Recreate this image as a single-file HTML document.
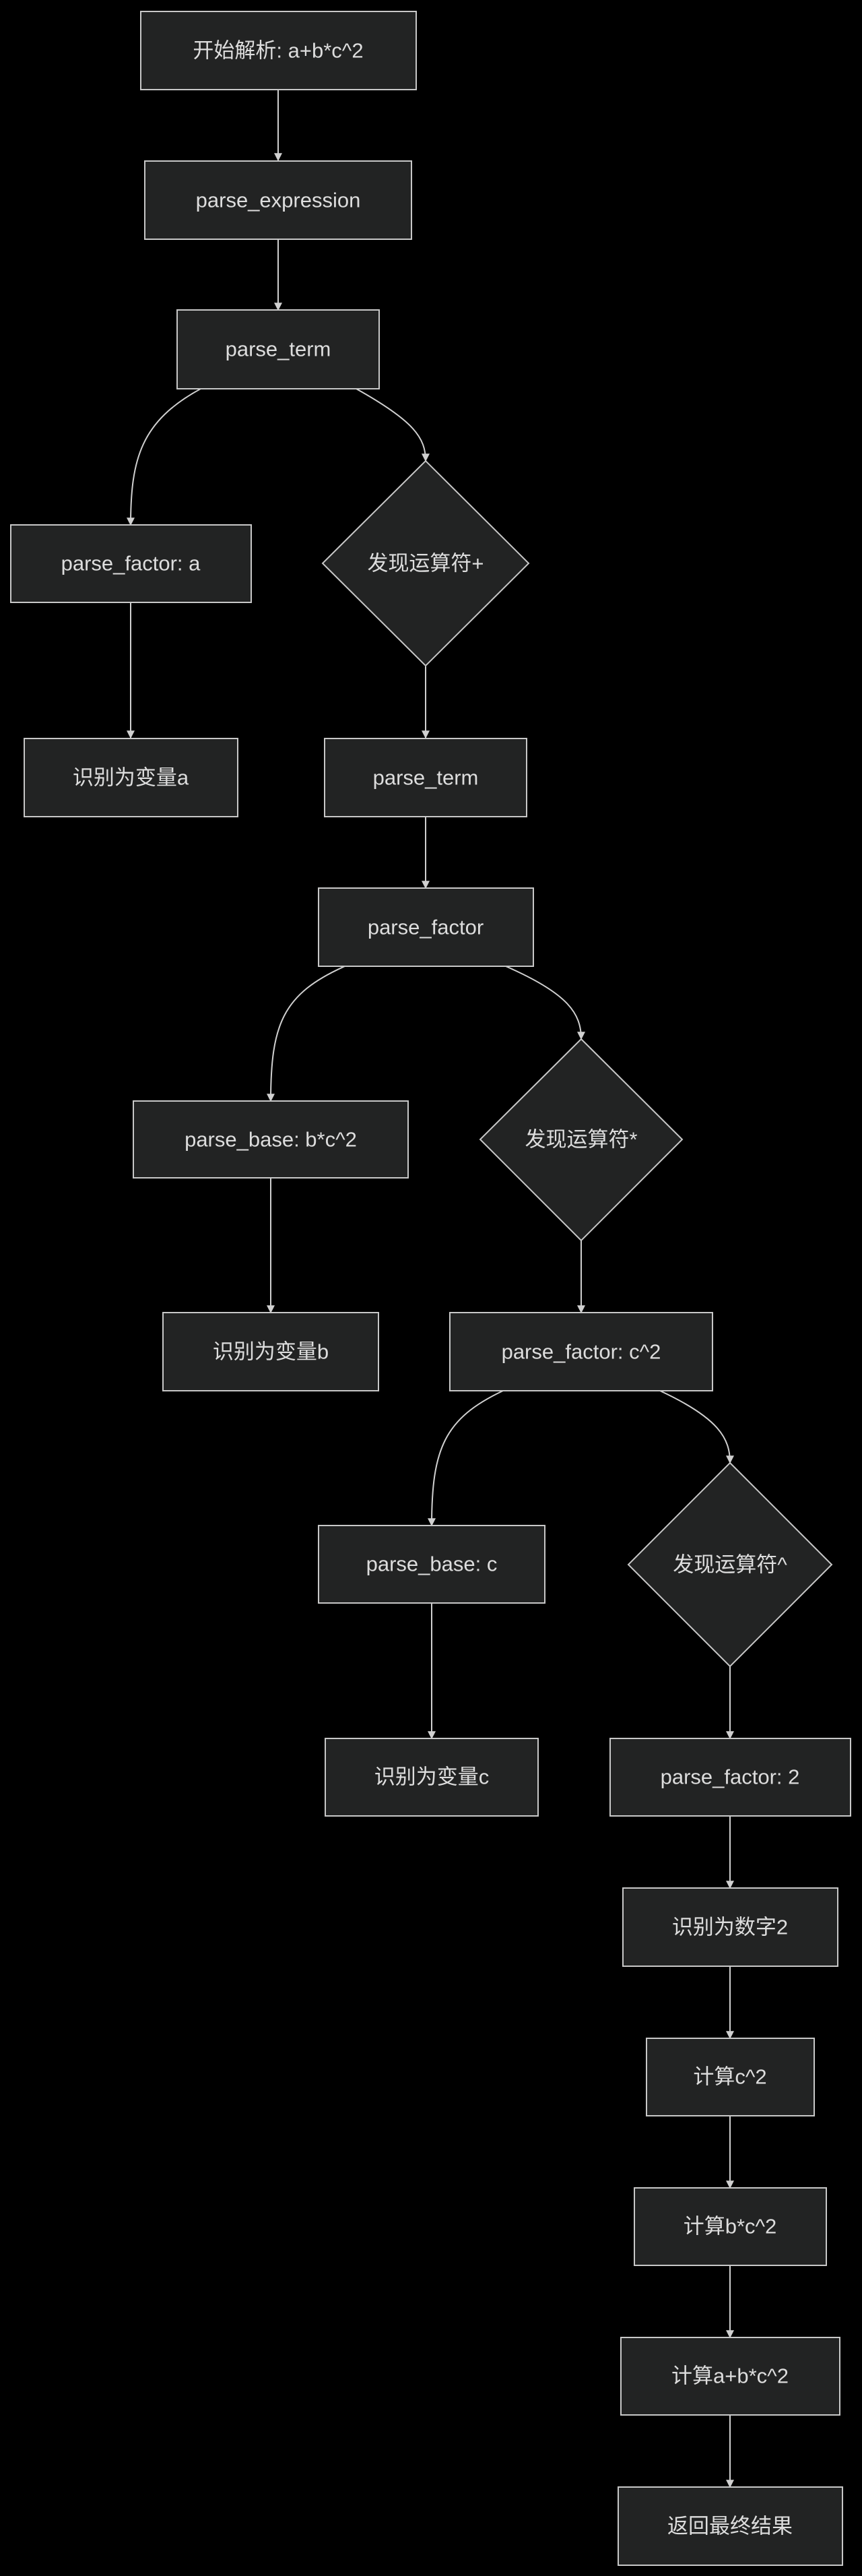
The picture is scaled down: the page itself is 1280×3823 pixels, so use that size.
<!DOCTYPE html>
<html><head><meta charset="utf-8"><style>
html,body{margin:0;padding:0;background:#000;}
svg{display:block}
text{font-family:"Liberation Sans","Noto Sans CJK SC",sans-serif;font-size:31px;fill:#dddddd;text-anchor:middle;dominant-baseline:central}
.n{fill:#222323;stroke:#c8c8c8;stroke-width:2}
.e{fill:none;stroke:#d0d0d0;stroke-width:2;marker-end:url(#a)}
</style></head><body>
<svg width="1280" height="3823" viewBox="0 0 1280 3823" xmlns="http://www.w3.org/2000/svg">
<defs><marker id="a" viewBox="0 0 10 10" refX="9" refY="5" markerWidth="12" markerHeight="12" markerUnits="userSpaceOnUse" orient="auto"><path d="M0,0 L10,5 L0,10 z" fill="#d0d0d0"/></marker></defs>

<path class="e" d="M413,133 L413,238"/>
<path class="e" d="M413,355 L413,460"/>
<path class="e" d="M298,577 C210,625 194,680 194,779"/>
<path class="e" d="M529,577 C615,625 632,650 632,684"/>
<path class="e" d="M194,894 L194,1095"/>
<path class="e" d="M632,989 L632,1095"/>
<path class="e" d="M632,1212 L632,1318"/>
<path class="e" d="M512,1434 C420,1475 402,1520 402,1634"/>
<path class="e" d="M751,1434 C845,1475 863,1505 863,1542"/>
<path class="e" d="M402,1748 L402,1948"/>
<path class="e" d="M863,1841 L863,1948"/>
<path class="e" d="M747,2064 C660,2105 641,2150 641,2264"/>
<path class="e" d="M980,2064 C1068,2105 1084,2135 1084,2171"/>
<path class="e" d="M641,2379 L641,2580"/>
<path class="e" d="M1084,2473 L1084,2580"/>
<path class="e" d="M1084,2695 L1084,2802"/>
<path class="e" d="M1084,2918 L1084,3025"/>
<path class="e" d="M1084,3140 L1084,3247"/>
<path class="e" d="M1084,3362 L1084,3469"/>
<path class="e" d="M1084,3584 L1084,3691"/>

<rect class="n" x="209" y="17" width="409" height="116"/><text x="413" y="75">开始解析: a+b*c^2</text>
<rect class="n" x="215" y="239" width="396" height="116"/><text x="413" y="297">parse_expression</text>
<rect class="n" x="263" y="460" width="300" height="117"/><text x="413" y="518">parse_term</text>
<rect class="n" x="16" y="779" width="357" height="115"/><text x="194" y="836">parse_factor: a</text>
<polygon class="n" points="632,684 785,836 632,988 479,836"/><text x="632" y="836">发现运算符+</text>
<rect class="n" x="36" y="1096" width="317" height="116"/><text x="194" y="1154">识别为变量a</text>
<rect class="n" x="482" y="1096" width="300" height="116"/><text x="632" y="1154">parse_term</text>
<rect class="n" x="473" y="1318" width="319" height="116"/><text x="632" y="1376">parse_factor</text>
<rect class="n" x="198" y="1634" width="408" height="114"/><text x="402" y="1691">parse_base: b*c^2</text>
<polygon class="n" points="863,1542 1013,1691 863,1841 713,1691"/><text x="863" y="1691">发现运算符*</text>
<rect class="n" x="242" y="1948" width="320" height="116"/><text x="402" y="2006">识别为变量b</text>
<rect class="n" x="668" y="1948" width="390" height="116"/><text x="863" y="2006">parse_factor: c^2</text>
<rect class="n" x="473" y="2264" width="336" height="115"/><text x="641" y="2321">parse_base: c</text>
<polygon class="n" points="1084,2171 1235,2322 1084,2473 933,2322"/><text x="1084" y="2322">发现运算符^</text>
<rect class="n" x="483" y="2580" width="316" height="115"/><text x="641" y="2637">识别为变量c</text>
<rect class="n" x="906" y="2580" width="357" height="115"/><text x="1084" y="2637">parse_factor: 2</text>
<rect class="n" x="925" y="2802" width="319" height="116"/><text x="1084" y="2860">识别为数字2</text>
<rect class="n" x="960" y="3025" width="249" height="115"/><text x="1084" y="3082">计算c^2</text>
<rect class="n" x="942" y="3247" width="285" height="115"/><text x="1084" y="3304">计算b*c^2</text>
<rect class="n" x="922" y="3469" width="325" height="115"/><text x="1084" y="3526">计算a+b*c^2</text>
<rect class="n" x="918" y="3691" width="333" height="116"/><text x="1084" y="3749">返回最终结果</text>
</svg>
</body></html>
